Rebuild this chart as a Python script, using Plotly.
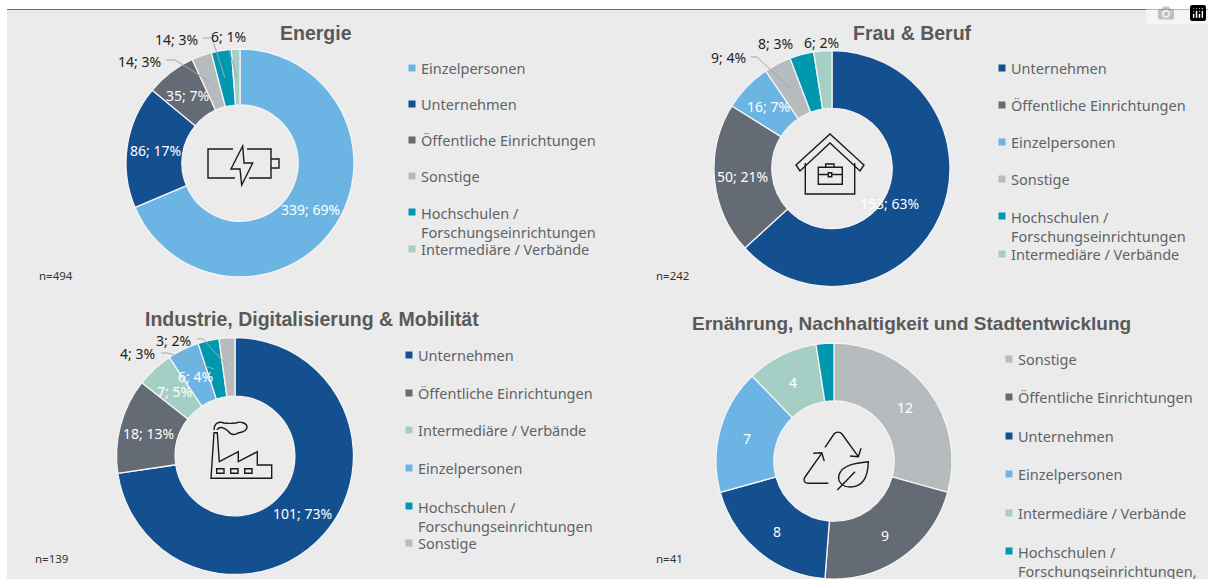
import plotly.graph_objects as go

W, H = 1212, 579
EZ = "Einzelpersonen"
UN = "Unternehmen"
OE = "Öffentliche Einrichtungen"
SO = "Sonstige"
HS = "Hochschulen /<br>Forschungseinrichtungen"
HS2 = "Hochschulen /<br>Forschungseinrichtungen,"
IV = "Intermediäre / Verbände"
COLORS = {EZ: "#6CB4E3", UN: "#14508F", OE: "#646B74", SO: "#B6BBBD",
          HS: "#0098B0", HS2: "#0098B0", IV: "#A5CFC5"}

titles = ["Energie", "Frau & Beruf", "Industrie, Digitalisierung & Mobilität",
          "Ernährung, Nachhaltigkeit und Stadtentwicklung"]
cats_energie = [EZ, UN, OE, SO, HS, IV]
vals_energie = [339, 86, 35, 14, 14, 6]
cats_frau = [UN, OE, EZ, SO, HS, IV]
vals_frau = [153, 50, 16, 9, 8, 6]
cats_industrie = [UN, OE, IV, EZ, HS, SO]
vals_industrie = [101, 18, 7, 6, 4, 3]
cats_ernaehrung = [SO, OE, UN, EZ, IV, HS2]
vals_ernaehrung = [12, 9, 8, 7, 4, 1]
n_labels = ["n=494", "n=242", "n=139", "n=41"]

panels = [
    dict(cats=cats_energie, vals=vals_energie, c=(240, 163), R=114, hole=0.51, pct=True,
         title=(316, 33), n=(56, 276),
         lab=[(310, 209), (155, 150), (187, 95), (139, 61), (176, 39), (228, 37)],
         dark=[3, 4, 5],
         leg_x=419, leg_y=[68, 104, 140, 176, 212, 249]),
    dict(cats=cats_frau, vals=vals_frau, c=(832, 168.5), R=118, hole=0.51, pct=True,
         title=(912, 33), n=(672, 275),
         lab=[(890, 204), (743, 176), (768, 106), (728, 57), (775, 44), (821, 42)],
         dark=[3, 4, 5],
         leg_x=1009, leg_y=[68, 105, 142, 179, 216, 254]),
    dict(cats=cats_industrie, vals=vals_industrie, c=(235, 456), R=118.5, hole=0.505, pct=True,
         title=(312, 319), n=(51, 558),
         lab=[(302, 513), (148, 433), (174, 391), (196, 376), (137, 353), (173, 340)],
         dark=[4, 5],
         leg_x=416, leg_y=[355, 393, 430, 468, 506, 543]),
    dict(cats=cats_ernaehrung, vals=vals_ernaehrung, c=(834, 461), R=118, hole=0.51, pct=False,
         title=(911, 323), n=(669, 558),
         lab=[(905, 408), (885, 535), (777, 531), (747, 438), (793, 382), None],
         dark=[],
         leg_x=1016, leg_y=[359, 397, 436, 474, 513, 551]),
]

FONT = "Noto Sans, sans-serif"
TITLE_FONT = "Liberation Sans Narrow, Liberation Sans, sans-serif"
TEXT_GREY = "#5F6368"

def px(x): return x / W
def py(y): return 1 - y / H

def path(d):
    """Pixel-space SVG-style path -> paper-space path string."""
    out, is_x = [], True
    for t in d.split():
        if t.isalpha():
            out.append(t)
        else:
            v = float(t)
            out.append(f"{px(v):.5f}" if is_x else f"{py(v):.5f}")
            is_x = not is_x
    return " ".join(out)

leaders = [
    "M 166 60 L 175 60 L 210 82",
    "M 203 38 L 212 38 L 225 78",
    "M 229 50 L 237 77",
    "M 751 57 L 757 57 L 790 88",
    "M 161 353 L 168 353 L 214 369",
    "M 197 339 L 203 339 L 228 367",
]
icons = [
    # battery
    "M 233 149 L 208 149 L 208 178 L 235 178",
    "M 247 149 L 271 149 L 271 178 L 249 178",
    "M 271 159 L 279 159 L 279 168 L 271 168",
    "M 242.7 146 L 231 169 L 240 169 L 241.7 185 L 252.7 163 L 244 163 Z",
    # house and briefcase
    "M 796 165 L 830 134 L 864 165 L 860 171 L 830 143 L 800 171 Z",
    "M 805.3 163 L 805.3 194 L 854.7 194 L 854.7 163",
    "M 818.3 167.3 L 842.3 167.3 L 842.3 184.3 L 818.3 184.3 Z",
    "M 825.7 167 L 825.7 164 L 834 164 L 834 167",
    "M 818.3 174.5 L 828.3 174.5 M 831.7 174.5 L 842.3 174.5",
    "M 828.3 172.7 L 831.7 172.7 L 831.7 176.7 L 828.3 176.7 Z",
    # factory
    "M 211 478.3 L 214 432.7 L 217.3 432.7 L 219.3 461.7 L 238.3 451.7 L 238.3 461.7 L 257.3 451.7 L 257.3 465 L 271.7 465 L 271.7 478.3 Z",
    "M 216.7 468.7 L 224 468.7 L 224 473.3 L 216.7 473.3 Z",
    "M 230.7 468.7 L 238 468.7 L 238 473.3 L 230.7 473.3 Z",
    "M 244.7 468.7 L 252 468.7 L 252 473.3 L 244.7 473.3 Z",
    "M 214 430 C 214 423 219 421 224 423 C 230 424 232 423 236 423 C 240 421 247 423 247 427 C 247 432 241 432 238 433 C 234 436 230 434 228 431 C 224 427 219 426 217 430",
    # recycling and leaf
    "M 825 447.3 L 834 434 C 836 431.5 840 431.5 842 434 L 858.3 456.7",
    "M 850 456 L 858.3 456.7 L 861 448.3",
    "M 828.3 483.3 L 808 483.3 C 804 483.3 803 480 805 477 L 821.7 453.3",
    "M 813.3 453.3 L 821.7 452.7 L 824.3 461",
    "M 868.3 461.7 C 855 463 842 465 839 475 C 837 482 843 487 850 487 C 864 487 868 475 868.3 461.7 Z",
    "M 837.3 490 L 855 471.7",
]

fig = go.Figure()
shapes = [
    dict(type="rect", xref="paper", yref="paper", x0=px(7), x1=px(1208), y0=0, y1=py(10),
         fillcolor="#EBEBEB", line_width=0, layer="below"),
    dict(type="line", xref="paper", yref="paper", x0=px(7), x1=px(1208), y0=py(9.5), y1=py(9.5),
         line=dict(color="#646B74", width=1), layer="below"),
]
ann = []

def note(x, y, text, size, color, family=FONT, anchor="center"):
    ann.append(dict(xref="paper", yref="paper", x=px(x), y=py(y), text=text, showarrow=False,
                    xanchor=anchor, yanchor="middle", align="left",
                    font=dict(size=size, color=color, family=family)))

for i, p in enumerate(panels):
    cx, cy = p["c"]
    R = p["R"]
    fig.add_trace(go.Pie(
        labels=p["cats"], values=p["vals"], hole=p["hole"], sort=False, direction="clockwise",
        rotation=0, textinfo="none", hoverinfo="label+value+percent", showlegend=False,
        domain=dict(x=[px(cx - R), px(cx + R)], y=[py(cy + R), py(cy - R)]),
        marker=dict(colors=[COLORS[c] for c in p["cats"]], line=dict(color="#F4F4F4", width=1.3)),
    ))
    note(*p["title"], f"<b>{titles[i]}</b>", 19.5 if i < 3 else 19, "#595959", TITLE_FONT)
    note(*p["n"], n_labels[i], 11.5, "#333333")
    total = sum(p["vals"])
    for j, pos in enumerate(p["lab"]):
        if pos is None:
            continue
        v = p["vals"][j]
        t = f"{v}; {round(100 * v / total)}%" if p["pct"] else str(v)
        note(pos[0], pos[1], t, 14, "#222222" if j in p["dark"] else "#FFFFFF")
    for cat, ly in zip(p["cats"], p["leg_y"]):
        s = 3.5
        mx = p["leg_x"] - 7
        shapes.append(dict(type="rect", xref="paper", yref="paper", x0=px(mx - s), x1=px(mx + s),
                           y0=py(ly + s), y1=py(ly - s), fillcolor=COLORS[cat], line_width=0))
        two = "<br>" in cat
        note(p["leg_x"], ly + (10 if two else 0), cat, 14.5, TEXT_GREY, anchor="left")

for d in leaders:
    shapes.append(dict(type="path", xref="paper", yref="paper", path=path(d),
                       line=dict(color="#A6A6A6", width=1)))
for d in icons:
    shapes.append(dict(type="path", xref="paper", yref="paper", path=path(d),
                       line=dict(color="#1A1A1A", width=1.4)))

fig.update_layout(width=W, height=H, margin=dict(l=0, r=0, t=0, b=0),
                  paper_bgcolor="white", plot_bgcolor="white",
                  shapes=shapes, annotations=ann, showlegend=False)
fig.write_html("out.html", post_script="document.body.style.margin='0';document.body.style.overflow='hidden';")
